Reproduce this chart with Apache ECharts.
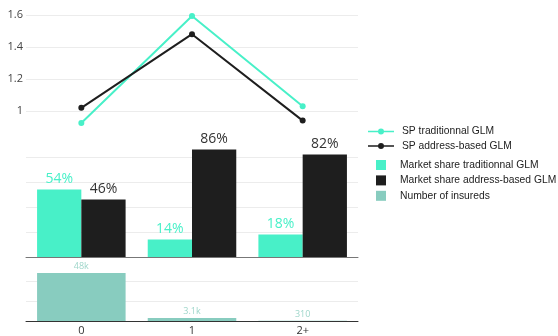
<!DOCTYPE html>
<html><head><meta charset="utf-8">
<script src="https://cdn.jsdelivr.net/npm/echarts@6/dist/echarts.min.js"></script>
<style>html,body{margin:0;padding:0;background:#fff}#c{width:558px;height:336px}</style>
</head><body><div id="c"></div>
<script>
const categories = ['0', '1', '2+'];
const spTraditional = [0.925, 1.594, 1.03];
const spAddress = [1.02, 1.48, 0.94];
const shareTraditional = [54, 14, 18];
const shareAddress = [46, 86, 82];
const insureds = [48000, 3100, 310];
const insuredLabels = ['48k', '3.1k', '310'];

const TEAL = '#48f0c8', BLACK = '#1e1e1e', INS = '#88ccbf';
const font = 'Open Sans';
const chart = echarts.init(document.getElementById('c'));
const xBase = (i, show, col) => ({
  type: 'category', gridIndex: i, data: categories,
  axisTick: { show: false },
  axisLine: { show: show, lineStyle: { color: col, width: 1 } },
  axisLabel: { show: i === 2, color: '#333', fontFamily: font, fontSize: 11, margin: 4 }
});
const grid = { color: '#ececec', width: 1 };
const lineIcon = 'path://M0,2.3L26,2.3L26,3.7L0,3.7Z M10,3 A3,3 0 1,1 16,3 A3,3 0 1,1 10,3 Z';
const sq = 'path://M0,0L10,0L10,10L0,10Z';
const legText = { fontFamily: 'Liberation Sans', fontSize: 10.3, color: '#222' };
chart.setOption({
  animation: false,
  grid: [
    { left: 26, right: 200, top: 2, height: 141 },
    { left: 26, right: 200, top: 132, height: 125 },
    { left: 26, right: 200, top: 261, height: 60 }
  ],
  xAxis: [xBase(0, false, '#444'), xBase(1, true, '#777'), xBase(2, true, '#333')],
  yAxis: [
    { type: 'value', gridIndex: 0, min: 0.8, max: 1.68125, interval: 0.2,
      axisLine: { show: false }, axisTick: { show: false },
      axisLabel: { showMinLabel: false, showMaxLabel: false, color: '#444', fontFamily: font, fontSize: 11, margin: 3,
        formatter: v => (Math.round(v * 10) / 10).toString() },
      splitLine: { showMinLine: false, showMaxLine: false, lineStyle: grid } },
    { type: 'value', gridIndex: 1, min: 0, max: 100, interval: 20,
      axisLine: { show: false }, axisTick: { show: false }, axisLabel: { show: false },
      splitLine: { showMaxLine: false, lineStyle: grid } },
    { type: 'value', gridIndex: 2, min: 0, max: 60000, interval: 20000,
      axisLine: { show: false }, axisTick: { show: false }, axisLabel: { show: false },
      splitLine: { showMaxLine: false, lineStyle: grid } }
  ],
  legend: [
    { orient: 'vertical', left: 368, top: 126.5, padding: 0, itemGap: 4.5, itemWidth: 26, itemHeight: 6,
      textStyle: Object.assign({ padding: [0, 0, 0, 3] }, legText), itemStyle: { borderWidth: 0 },
      data: [{ name: 'SP traditionnal GLM', icon: lineIcon }, { name: 'SP address-based GLM', icon: lineIcon }] },
    { orient: 'vertical', left: 376, top: 160, padding: 0, itemGap: 5.4, itemWidth: 10, itemHeight: 10,
      textStyle: Object.assign({ padding: [0, 0, 0, 9] }, legText),
      data: [
        { name: 'Market share traditionnal GLM', icon: sq },
        { name: 'Market share address-based GLM', icon: sq },
        { name: 'Number of insureds', icon: sq }
      ] }
  ],
  series: [
    { name: 'SP traditionnal GLM', type: 'line', xAxisIndex: 0, yAxisIndex: 0, data: spTraditional,
      symbol: 'circle', symbolSize: 6, color: TEAL, lineStyle: { width: 2, color: TEAL } },
    { name: 'SP address-based GLM', type: 'line', xAxisIndex: 0, yAxisIndex: 0, data: spAddress,
      symbol: 'circle', symbolSize: 6, color: BLACK, lineStyle: { width: 2, color: BLACK } },
    { name: 'Market share traditionnal GLM', type: 'bar', xAxisIndex: 1, yAxisIndex: 1, data: shareTraditional,
      color: TEAL, barGap: 0, barCategoryGap: '20%',
      label: { show: true, position: 'top', distance: 3, formatter: '{c}%', color: TEAL, fontFamily: font, fontSize: 14 } },
    { name: 'Market share address-based GLM', type: 'bar', xAxisIndex: 1, yAxisIndex: 1, data: shareAddress,
      color: BLACK, barGap: 0, barCategoryGap: '20%',
      label: { show: true, position: 'top', distance: 3, formatter: '{c}%', color: '#333', fontFamily: font, fontSize: 14 } },
    { name: 'Number of insureds', type: 'bar', xAxisIndex: 2, yAxisIndex: 2, data: insureds,
      color: INS, barCategoryGap: '20%',
      label: { show: true, position: 'top', distance: 2, formatter: p => insuredLabels[p.dataIndex], color: '#9fd6ca', fontFamily: font, fontSize: 9 } }
  ]
});
</script></body></html>
